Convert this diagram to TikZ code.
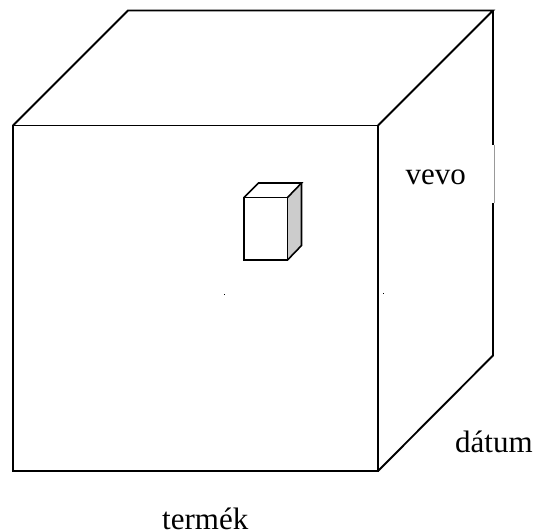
\documentclass[tikz,border=0pt]{standalone}
\usepackage{fontspec}
\setmainfont{Liberation Serif}
\tikzset{
  edge/.style={draw=black,line width=1.9pt,line join=miter},
  thinedge/.style={draw=black,line width=1.6pt,line join=miter},
  lbl/.style={inner sep=0pt,anchor=base west,text=black,font=\fontsize{31pt}{31pt}\selectfont},
  speck/.style={fill=black}
}
\begin{document}
\begin{tikzpicture}[x=1pt,y=-1pt]
\useasboundingbox (0,0) rectangle (535,531);
% large cube
\coordinate (fa) at (13,125.5);
\coordinate (fb) at (378,125.5);
\coordinate (fc) at (378,471);
\coordinate (fd) at (13,471);
\coordinate (ba) at (128,10.5);
\coordinate (bb) at (493,10.5);
\coordinate (bc) at (493,355.5);
\coordinate (g1) at (493,145);
\coordinate (g2) at (493,203);
\draw[edge] (fa) -- (fb) -- (fc) -- (fd) -- cycle;
\draw[edge] (fa) -- (ba) -- (bb) -- (fb);
\draw[edge] (bb) -- (g1);
\draw[edge] (g2) -- (bc) -- (fc);
\draw[draw=black!40,line width=0.7pt] (494,145) -- (494,203);
% small cube
\coordinate (sa) at (244,197.5);
\coordinate (sb) at (287.5,197.5);
\coordinate (sc) at (287.5,260);
\coordinate (sd) at (244,260);
\coordinate (ta) at (258.5,183);
\coordinate (tb) at (301.5,183);
\coordinate (tc) at (301.5,245.5);
\fill[black!20] (sb) -- (tb) -- (tc) -- (sc) -- cycle;
\draw[thinedge] (sa) -- (sb) -- (sc) -- (sd) -- cycle;
\draw[thinedge] (sa) -- (ta) -- (tb) -- (sb);
\draw[thinedge] (tb) -- (tc) -- (sc);
% specks
\fill[speck] (224,293.5) rectangle (225.3,294.8);
\fill[speck] (382.7,293) rectangle (384,294.3);
% labels
\node[lbl] (vevo) at (405.5,184.5) {vevo};
\node[lbl] (datum) at (455,452) {dátum};
\node[lbl] (termek) at (162,529) {termék};
\end{tikzpicture}
\end{document}
